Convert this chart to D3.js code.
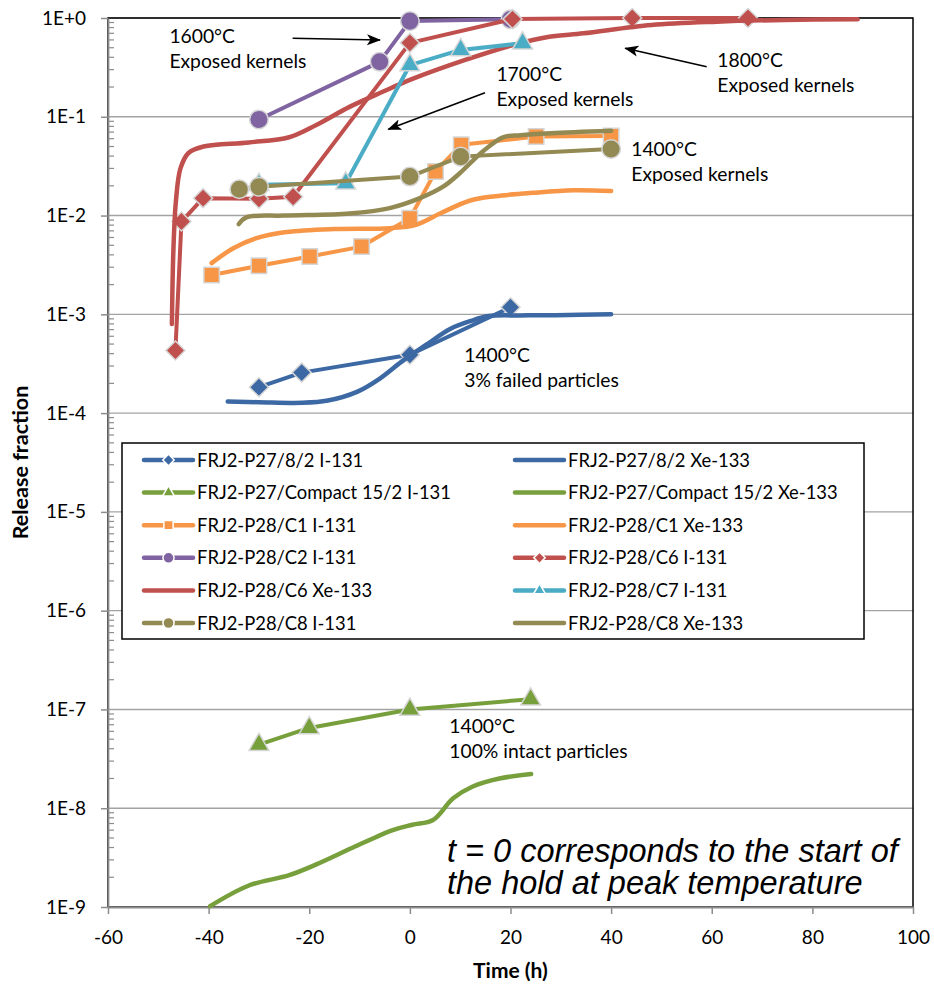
<!DOCTYPE html>
<html><head><meta charset="utf-8">
<script src="https://cdn.jsdelivr.net/npm/d3@7"></script>
<style>
body{margin:0;background:#fff}
svg{display:block}
text{fill:#000}
</style>
</head><body>
<svg id="c" width="934" height="985"></svg>
<script>
// ---------- data ----------
const xTicks = [-60,-40,-20,0,20,40,60,80,100];
const yTicks = [1,1e-1,1e-2,1e-3,1e-4,1e-5,1e-6,1e-7,1e-8,1e-9];
const yTickLabels = ["1E+0","1E-1","1E-2","1E-3","1E-4","1E-5","1E-6","1E-7","1E-8","1E-9"];

const p27_8_I131  = [[-30,1.83e-4],[-21.5,2.57e-4],[0,3.9e-4],[20,1.18e-3]];
const p27_8_Xe133 = [[-36.2,1.31e-4],[-30,1.29e-4],[-21.5,1.27e-4],[-16.3,1.34e-4],[-10.4,1.65e-4],[-5.9,2.25e-4],[-1.7,3.3e-4],[3.2,4.9e-4],[8,7.1e-4],[12.2,8.6e-4],[15.7,9.6e-4],[22,9.75e-4],[29,9.8e-4],[40,1.0e-3]];
const p27_15_I131  = [[-30,4.4e-8],[-20,6.5e-8],[0,1.0e-7],[24,1.27e-7]];
const p27_15_Xe133 = [[-39.7,1.02e-9],[-32,1.65e-9],[-24,2.1e-9],[-18.6,2.7e-9],[-11.3,4.0e-9],[-3.4,6.0e-9],[0.5,6.8e-9],[4.6,7.6e-9],[8.6,1.26e-8],[12.5,1.66e-8],[17.8,2.0e-8],[24.1,2.22e-8]];
const c1_I131  = [[-39.4,2.5e-3],[-30,3.1e-3],[-19.9,3.85e-3],[-9.6,4.85e-3],[0,9.4e-3],[5.1,2.8e-2],[10.2,5.2e-2],[25.1,6.3e-2],[40,6.4e-2]];
const c1_Xe133 = [[-39.4,3.3e-3],[-35,4.7e-3],[-30.5,5.9e-3],[-24.5,6.8e-3],[-15,7.3e-3],[-4,7.45e-3],[1,8.0e-3],[6,1.05e-2],[12,1.42e-2],[17,1.57e-2],[24.5,1.7e-2],[32.5,1.8e-2],[40,1.77e-2]];
const c2_I131  = [[-30,9.4e-2],[-6,0.36],[0,0.93],[20,0.97]];
const c6_I131  = [[-46.6,4.3e-4],[-45.4,8.7e-3],[-41.1,1.5e-2],[-30,1.48e-2],[-23.2,1.55e-2],[0,0.56],[20.4,0.975],[44.2,1.0],[67.2,1.0]];
const c6_Xe133 = [[-47.3,8e-4],[-47.0,4.5e-3],[-46.5,1.4e-2],[-45.6,3.0e-2],[-44,4.3e-2],[-41,5.0e-2],[-32,5.5e-2],[-24,6.2e-2],[-18.5,8.3e-2],[-12,0.126],[-5.3,0.18],[0,0.236],[11,0.376],[20.5,0.533],[27.7,0.645],[34.5,0.70],[48,0.85],[61,0.918],[74.5,0.955],[89,0.97]];
const c7_I131  = [[-30,2.05e-2],[-12.75,2.12e-2],[0,0.334],[10.1,0.475],[22.4,0.555]];
const c8_I131  = [[-33.9,1.85e-2],[-30,1.96e-2],[0,2.48e-2],[10.1,3.95e-2],[40,4.72e-2]];
const c8_Xe133 = [[-34,8.2e-3],[-32.5,9.6e-3],[-25,1.0e-2],[-12,1.05e-2],[-4,1.19e-2],[2,1.5e-2],[6.6,1.96e-2],[9.9,2.68e-2],[14.6,4.5e-2],[18.5,6.2e-2],[22,6.5e-2],[28,6.8e-2],[40,7.2e-2]];

const seriesNames = ["FRJ2-P27/8/2 I-131","FRJ2-P27/8/2 Xe-133","FRJ2-P27/Compact 15/2 I-131","FRJ2-P27/Compact 15/2 Xe-133","FRJ2-P28/C1 I-131","FRJ2-P28/C1 Xe-133","FRJ2-P28/C2 I-131","FRJ2-P28/C6 I-131","FRJ2-P28/C6 Xe-133","FRJ2-P28/C7 I-131","FRJ2-P28/C8 I-131","FRJ2-P28/C8 Xe-133"];
const seriesData = [p27_8_I131,p27_8_Xe133,p27_15_I131,p27_15_Xe133,c1_I131,c1_Xe133,c2_I131,c6_I131,c6_Xe133,c7_I131,c8_I131,c8_Xe133];

// annotations: [t, value, lines]
const annotations = [
  [-47.8,0.554,["1600°C","Exposed kernels"]],
  [17.2,0.230,["1700°C","Exposed kernels"]],
  [61.1,0.321,["1800°C","Exposed kernels"]],
  [44.0,0.0401,["1400°C","Exposed kernels"]],
  [10.8,3.27e-4,["1400°C","3% failed particles"]],
  [7.84,5.74e-8,["1400°C","100% intact particles"]]
];
const arrows = [
  [[-23.3,0.623],[-5.94,0.599]],
  [[14.93,0.175],[-4.29,0.0747]],
  [[59.0,0.321],[42.8,0.493]]
];
const noteAnchor = [7.38,2.85e-9];
const noteLines = ["t = 0 corresponds to the start of","the hold at peak temperature"];

// ---------- styles ----------
const colors = ["#3C69A3","#3C69A3","#77A03C","#77A03C","#F79646","#F79646","#8064A2","#C0504D","#C0504D","#4BACC6","#938953","#938953"];
const markers = ["diamond",null,"triangle",null,"square",null,"circle","diamond",null,"triangle","circle",null];
const FONT = "Lato, 'Open Sans', sans-serif";

const svg = d3.select("#c");
const x = d3.scaleLinear().domain([-60,100]).range([108,913]);
const y = d3.scaleLog().domain([1e-9,1]).range([907,18]);
const [X0,X1] = x.range(); const [Y0,Y1] = y.range();

const defs = svg.append("defs");
defs.append("marker").attr("id","arr").attr("markerUnits","userSpaceOnUse")
  .attr("viewBox","0 -6 14 12").attr("refX",13).attr("refY",0)
  .attr("markerWidth",14).attr("markerHeight",12).attr("orient","auto")
  .append("path").attr("d","M0,-5.5L14,0L0,5.5L3.5,0Z").attr("fill","#000");

// gridlines
svg.append("g").selectAll("line").data(yTicks.filter(v=>v>1e-9)).join("line")
  .attr("x1",X0).attr("x2",X1).attr("y1",d=>y(d)).attr("y2",d=>y(d))
  .attr("stroke","#a3a3a3").attr("stroke-width",1.4);

// plot border
svg.append("rect").attr("x",X0).attr("y",Y1).attr("width",X1-X0).attr("height",Y0-Y1)
  .attr("fill","none").attr("stroke","#000").attr("stroke-width",1.5);

// minor ticks
const minor=[];
for(let k=-9;k<0;k++) for(let m=2;m<10;m++) minor.push(m*Math.pow(10,k));
svg.append("g").selectAll("line").data(minor).join("line")
  .attr("x1",X0).attr("x2",X0+6).attr("y1",d=>y(d)).attr("y2",d=>y(d))
  .attr("stroke","#8c8c8c").attr("stroke-width",1.2);

// y axis
const gy = svg.append("g").attr("transform",`translate(${X0},0)`)
  .call(d3.axisLeft(y).tickValues(yTicks).tickFormat((d,i)=>yTickLabels[i]).tickSizeInner(7).tickSizeOuter(0).tickPadding(15));
// x axis
const gx = svg.append("g").attr("transform",`translate(0,${Y0})`)
  .call(d3.axisBottom(x).tickValues(xTicks).tickFormat(d=>String(d)).tickSizeInner(7).tickSizeOuter(0).tickPadding(17));
[gx,gy].forEach(g=>{
  g.select(".domain").attr("stroke","#8c8c8c").attr("stroke-width",1.8);
  g.selectAll(".tick line").attr("stroke","#8c8c8c").attr("stroke-width",1.5);
  g.selectAll(".tick text").style("font-family",FONT).style("font-size","19px").attr("fill","#000");
});

// axis titles
svg.append("text").attr("x",(X0+X1)/2).attr("y",978).attr("text-anchor","middle")
  .style("font-family",FONT).style("font-weight","bold").style("font-size","21px").text("Time (h)");
svg.append("text").attr("transform",`translate(28,${(Y0+Y1)/2}) rotate(-90)`).attr("text-anchor","middle")
  .style("font-family",FONT).style("font-weight","bold").style("font-size","21.5px").text("Release fraction");

// legend box
const LG = {x:122,y:443,w:742,h:196};
svg.append("rect").attr("x",LG.x).attr("y",LG.y).attr("width",LG.w).attr("height",LG.h)
  .attr("fill","#fff").attr("stroke","#000").attr("stroke-width",1.5);

function symPath(type,scale){
  const s = scale||1;
  if(type==="diamond") return d3.symbol(d3.symbolSquare,180*s*s)();
  if(type==="square") return d3.symbol(d3.symbolSquare,240*s*s)();
  if(type==="circle") return d3.symbol(d3.symbolCircle,270*s*s)();
  if(type==="triangle") return d3.symbol(d3.symbolTriangle,170*s*s)();
}
function symRot(type){ return type==="diamond"?" rotate(45)":""; }

// series
seriesData.forEach((data,i)=>{
  const smooth = markers[i]===null;
  const line = d3.line().x(d=>x(d[0])).y(d=>y(d[1]))
    .curve(smooth?d3.curveCatmullRom.alpha(0.5):d3.curveLinear);
  const g = svg.append("g");
  g.append("path").attr("d",line(data)).attr("fill","none").attr("stroke",colors[i])
    .attr("stroke-width",smooth?4.5:4).attr("stroke-linejoin","round").attr("stroke-linecap","round");
  if(markers[i]){
    g.selectAll("path.m").data(data).join("path").attr("class","m")
      .attr("d",symPath(markers[i]))
      .attr("transform",d=>`translate(${x(d[0])},${y(d[1])})`+symRot(markers[i]))
      .attr("fill",colors[i]).attr("stroke","#d6d6d6").attr("stroke-width",1.5);
  }
});

// legend entries
const rowY = d3.range(6).map(r=>460+r*32.6);
const colX = [144,515];
seriesNames.forEach((name,i)=>{
  const cx = colX[i%2], cy = rowY[Math.floor(i/2)];
  const g = svg.append("g");
  g.append("line").attr("x1",cx).attr("x2",cx+49).attr("y1",cy).attr("y2",cy)
    .attr("stroke",colors[i]).attr("stroke-width",4.5).attr("stroke-linecap","round");
  if(markers[i]){
    g.append("path").attr("d",symPath(markers[i],0.6))
      .attr("transform",`translate(${cx+24.5},${cy})`+symRot(markers[i]))
      .attr("fill",colors[i]).attr("stroke","#fff").attr("stroke-width",1.5);
  }
  g.append("text").attr("x",cx+53).attr("y",cy).attr("dy","0.36em")
    .style("font-family",FONT).style("font-size","18.4px").text(name);
});

// annotations
annotations.forEach(([t,v,lines])=>{
  const tx = svg.append("text").attr("x",x(t)).attr("y",y(v))
    .style("font-family",FONT).style("font-size","19.3px");
  lines.forEach((l,j)=>tx.append("tspan").attr("x",x(t)).attr("dy",j?25:0).text(l));
});
arrows.forEach(([a,b])=>{
  svg.append("line").attr("x1",x(a[0])).attr("y1",y(a[1])).attr("x2",x(b[0])).attr("y2",y(b[1]))
    .attr("stroke","#000").attr("stroke-width",1.6).attr("marker-end","url(#arr)");
});
const nt = svg.append("text").attr("x",x(noteAnchor[0])).attr("y",y(noteAnchor[1]))
  .style("font-family","'Liberation Sans', Arial, sans-serif").style("font-style","italic").style("font-size","32.5px");
noteLines.forEach((l,j)=>nt.append("tspan").attr("x",x(noteAnchor[0])).attr("dy",j?32:0).text(l));
</script>
</body></html>
